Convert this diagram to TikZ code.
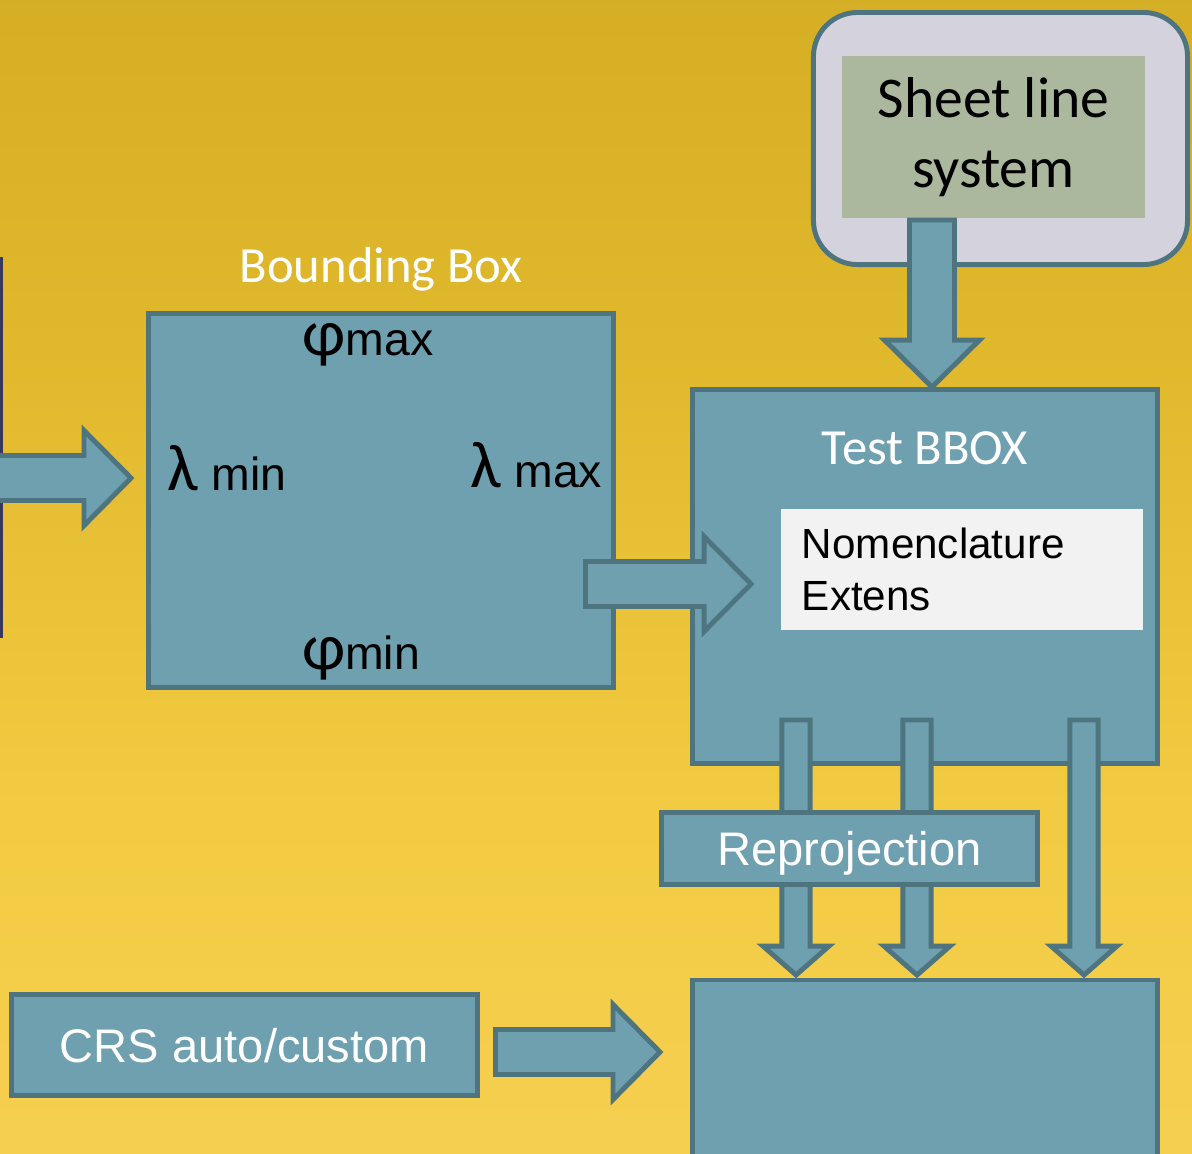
\documentclass[tikz,border=0pt]{standalone}
\usepackage{fontspec}
\setmainfont{Liberation Sans}
\newfontfamily\calfont{Carlito}
\usepackage{tikz}
\usetikzlibrary{calc}

\definecolor{boxblue}{RGB}{110,160,176}
\definecolor{edgeblue}{RGB}{78,116,128}
\definecolor{bgtop}{RGB}{199,163,30}
\definecolor{bgupper}{RGB}{208,170,33}
\definecolor{bghigh}{RGB}{224,184,44}
\definecolor{bgmid}{RGB}{243,203,66}
\definecolor{bglow}{RGB}{245,207,80}
\definecolor{bgbot}{RGB}{243,211,98}
\definecolor{lavender}{RGB}{212,210,221}
\definecolor{sage}{RGB}{172,184,158}
\definecolor{paper}{RGB}{242,242,242}
\definecolor{navy}{RGB}{55,55,90}

\pgfdeclareverticalshading{backdrop}{100bp}{color(0bp)=(bgbot); color(25bp)=(bglow);
  color(40bp)=(bgmid); color(60bp)=(bghigh); color(82bp)=(bgupper); color(100bp)=(bgtop)}

\newcommand{\greek}[1]{{\calfont\fontsize{47}{40}\selectfont #1}}

\tikzstyle{panel} = [rectangle, draw=edgeblue, fill=boxblue, line width=3.5pt, inner sep=0pt]
\tikzstyle{heading} = [text=white, font=\calfont\fontsize{36}{43}\selectfont, anchor=base]
\tikzstyle{bound} = [font=\fontsize{33}{40}\selectfont, anchor=base]
\tikzstyle{boxtext} = [text=white, font=\fontsize{33.5}{40}\selectfont, text depth=0pt]

\tikzset{
  arrow size/.code args={#1/#2/#3}{\def\arbody{#1}\def\arhead{#2}\def\arlen{#3}},
  arrow size=16/33.8/33.4,
  fat arrow/.style={draw=edgeblue, fill=boxblue, line width=3.5pt, line join=miter,
    to path={let \p1=(\tikztostart), \p2=(\tikztotarget),
      \n1={atan2(\y2-\y1,\x2-\x1)}, \n2={veclen(\x2-\x1,\y2-\y1)-\arlen} in
      ($(\p1)+(\n1+90:\arbody pt)$)
      -- ($(\p1)+(\n1:\n2)+(\n1+90:\arbody pt)$)
      -- ($(\p1)+(\n1:\n2)+(\n1+90:\arhead pt)$)
      -- (\p2)
      -- ($(\p1)+(\n1:\n2)+(\n1-90:\arhead pt)$)
      -- ($(\p1)+(\n1:\n2)+(\n1-90:\arbody pt)$)
      -- ($(\p1)+(\n1-90:\arbody pt)$) -- cycle}}
}

\begin{document}
\begin{tikzpicture}[x=0.025cm, y=-0.025cm]

  \useasboundingbox (0,0) rectangle (1192,1153);
  \shade[shading=backdrop] (0,0) rectangle (1192,1153);
  \fill[navy] (0,257) rectangle (3,638);

  \coordinate (in tail) at (-10,478);
  \coordinate (in tip) at (131,478);
  \draw[fat arrow] (in tail) to (in tip);

  \node[panel, minimum width=11.625cm, minimum height=9.35cm] (bbox) at (381,500.5) {};
  \node[heading] (bbox title) at (381,282) {Bounding Box};
  \node[bound] (phimax) at (368,355) {\greek{φ}max};
  \node[bound] (lammin) at (227,490) {\greek{λ} min};
  \node[bound] (lammax) at (536.5,487) {\greek{λ} max};
  \node[bound] (phimin) at (361,669) {\greek{φ}min};

  \node[draw=edgeblue, fill=lavender, line width=3.5pt, rounded corners=1.1cm,
        minimum width=9.35cm, minimum height=6.3cm] (sheet frame) at (1000.5,138.5) {};
  \node[fill=sage, minimum width=7.575cm, minimum height=4.05cm, align=center,
        font=\calfont\fontsize{41}{50}\selectfont] (sheet) at (993.5,137) {Sheet line\\system};

  \node[panel, minimum width=11.625cm, minimum height=9.35cm] (test) at (925,576.5) {};
  \coordinate (sheet tail) at (932,220);
  \coordinate (sheet tip) at (932,387);
  \draw[fat arrow] (sheet tail) to (sheet tip);
  \node[heading] (test title) at (925,464) {Test BBOX};
  \node[fill=paper, minimum width=9.05cm, minimum height=3.025cm, text width=8cm,
        inner xsep=0.525cm, align=left, font=\fontsize{30}{37}\selectfont]
        (nomen) at (962,569.5) {Nomenclature\\Extens};

  \coordinate (bt tail) at (585.5,584);
  \coordinate (bt tip) at (751,584);
  \draw[fat arrow] (bt tail) to (bt tip);

  \node[panel, minimum width=11.625cm, minimum height=5cm] (result) at (925,1080) {};
  \foreach \x [count=\i] in {796,917,1084}{
    \coordinate (out\i) at (\x,720);
    \coordinate (res\i) at (\x,975);
    \draw[fat arrow, arrow size=10/23.5/20.6] (out\i) to (res\i);
  }
  \node[panel, boxtext, minimum width=9.4cm, minimum height=1.8cm] (reproj) at (849.5,848.5) {Reprojection};

  \node[panel, boxtext, minimum width=11.65cm, minimum height=2.525cm] (crs) at (244.5,1045) {CRS auto/custom};
  \coordinate (crs tail) at (495.5,1052);
  \coordinate (crs tip) at (660,1052);
  \draw[fat arrow] (crs tail) to (crs tip);

\end{tikzpicture}
\end{document}
